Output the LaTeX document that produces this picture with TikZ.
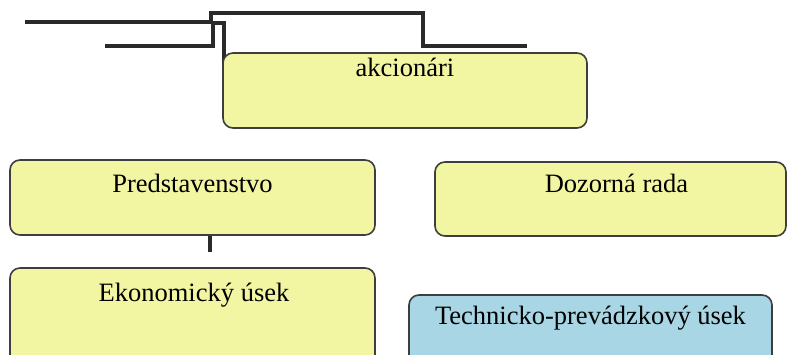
\documentclass[tikz,border=0pt]{standalone}
\usepackage{fontspec}
\setmainfont{Liberation Serif}
\usetikzlibrary{calc}
\definecolor{boxyellow}{RGB}{242,246,162}
\definecolor{boxblue}{RGB}{168,214,228}
\definecolor{edgegray}{RGB}{62,62,62}
\definecolor{linegray}{RGB}{42,42,42}
\tikzset{
  orgbox/.style={draw=edgegray, line width=1.6pt, rounded corners=10pt},
  lbl/.style={anchor=base, inner sep=0pt, font=\fontsize{26.5}{30}\selectfont},
  thickline/.style={draw=linegray, line width=4pt},
}
\begin{document}
\begin{tikzpicture}[x=1pt,y=-1pt]
\clip (0,0) rectangle (790,355);
\fill[white] (0,0) rectangle (790,355);
% connector lines at top
\coordinate (a1) at (25,22);
\coordinate (a2) at (527,46);
\coordinate (b1) at (105,46);
\coordinate (b2) at (224,85);
\draw[thickline] (a1) -- (211,22) -- (211,13) -- (423,13) -- (423,46) -- (a2);
\draw[thickline] (b1) -- (213,46) -- (213,23) -- (224,23) -- (b2);
% boxes
\path[orgbox, fill=boxyellow] (223,53) rectangle (587,128);
\node[inner sep=0pt] (akc) at (405,90.5) {};
\path[orgbox, fill=boxyellow] (10,160) rectangle (375,235);
\node[inner sep=0pt] (pred) at (192.5,235) {};
\path[orgbox, fill=boxyellow] (435,162) rectangle (786,236);
\node[inner sep=0pt] (doz) at (610.5,199) {};
\path[orgbox, fill=boxyellow] (10,268) rectangle (375,380);
\node[inner sep=0pt] (eko) at (192.5,268) {};
\path[orgbox, fill=boxblue] (409,295) rectangle (772,380);
\node[inner sep=0pt] (tech) at (590.5,330) {};
% tick between Predstavenstvo and Ekonomicky usek
\coordinate (tk) at (210,252);
\draw[thickline] (pred.south -| tk) -- (tk);
% labels
\node[lbl] (akct) at (405,77) {akcionári};
\node[lbl] (predt) at (192.5,193) {Predstavenstvo};
\node[lbl] (dozt) at (616.5,193) {Dozorná rada};
\node[lbl] (ekot) at (194,302) {Ekonomický úsek};
\node[lbl] (techt) at (590.5,325) {Technicko-prevádzkový úsek};
\end{tikzpicture}
\end{document}
